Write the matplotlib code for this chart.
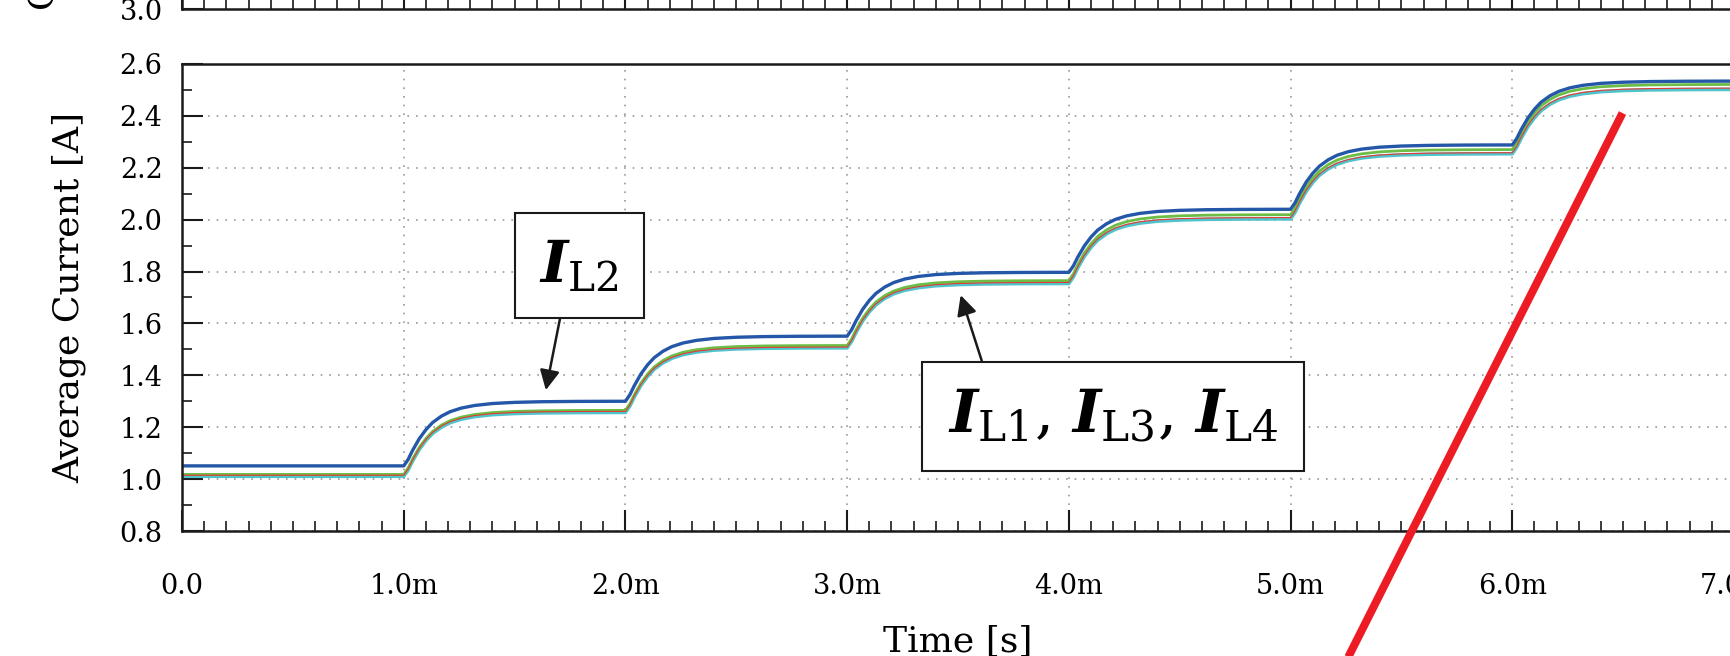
import matplotlib
matplotlib.use("Agg")
import matplotlib.pyplot as plt
from matplotlib.ticker import MultipleLocator, FuncFormatter

# step instants [s] and settled levels [A] between the steps
step_times = [1e-3, 2e-3, 3e-3, 4e-3, 5e-3, 6e-3]
t_end = 7e-3
il2_levels = [1.051, 1.300, 1.551, 1.797, 2.040, 2.288, 2.534]
il1_levels = [1.018, 1.265, 1.515, 1.765, 2.019, 2.270, 2.521]
il3_levels = [1.015, 1.261, 1.509, 1.758, 2.008, 2.258, 2.507]
il4_levels = [1.011, 1.257, 1.506, 1.754, 2.003, 2.254, 2.502]

# shape of one transient (time after step [s], fraction of step)
rise_dt = [0, 0.02e-3, 0.04e-3, 0.07e-3, 0.10e-3, 0.13e-3, 0.17e-3, 0.21e-3,
           0.26e-3, 0.32e-3, 0.40e-3, 0.50e-3, 0.62e-3, 0.78e-3, 0.95e-3]
rise_frac = [0, 0.10, 0.24, 0.42, 0.56, 0.67, 0.77, 0.84,
             0.895, 0.935, 0.965, 0.983, 0.993, 0.998, 1.0]

# overlay stroke (data coords)
red_x = [6.497e-3, 5.075e-3]
red_y = [2.411, 0.0]


def step_trace(levels):
    t = [0.0]
    y = [levels[0]]
    for k, ts in enumerate(step_times):
        lo, hi = levels[k], levels[k + 1]
        for dt, f in zip(rise_dt, rise_frac):
            t.append(ts + dt)
            y.append(lo + (hi - lo) * f)
    t.append(t_end)
    y.append(levels[-1])
    return t, y


def time_fmt(x, pos):
    if abs(x) < 1e-12:
        return "0.0"
    return "%.1fm" % (x * 1e3)


plt.rcParams["font.family"] = ["DejaVu Serif"]
plt.rcParams["mathtext.fontset"] = "custom"
plt.rcParams["mathtext.rm"] = "DejaVu Serif"
plt.rcParams["mathtext.it"] = "DejaVu Serif:italic:bold"

W, H = 1730, 656
fig = plt.figure(figsize=(W / 100, H / 100), dpi=100)
left, right = 182 / W, 1734 / W
ax = fig.add_axes([left, 1 - 531 / H, right - left, (531 - 64) / H])
ax_top = fig.add_axes([left, 1 - 9 / H, right - left, 0.6])

ink = "#1a1a1a"

for a in (ax, ax_top):
    a.set_xlim(0, t_end)
    a.xaxis.set_major_locator(MultipleLocator(1e-3))
    a.xaxis.set_minor_locator(MultipleLocator(1e-4))
    a.tick_params(which="major", direction="in", length=15, width=1.5, color=ink,
                  labelsize=19.5, top=False, right=False)
    a.tick_params(which="minor", direction="in", length=7, width=1.2, color=ink,
                  top=False, right=False)
    for s in a.spines.values():
        s.set_linewidth(1.8)
        s.set_color(ink)

ax.set_ylim(0.8, 2.6)
ax.yaxis.set_major_locator(MultipleLocator(0.2))
ax.yaxis.set_minor_locator(MultipleLocator(0.1))
ax.xaxis.set_major_formatter(FuncFormatter(time_fmt))
ax.yaxis.set_major_formatter(FuncFormatter(lambda v, p: "%.1f" % v))
ax.tick_params(axis="x", which="major", pad=30)
ax.tick_params(axis="y", which="major", pad=14)
ax.grid(which="major", color="#9a9a9a", linestyle=(0, (1, 4.2)), linewidth=1.2)
ax.set_axisbelow(True)

ax_top.set_ylim(3.0, 4.0)
ax_top.set_yticks([3.0])
ax_top.yaxis.set_major_formatter(FuncFormatter(lambda v, p: "%.1f" % v))
ax_top.tick_params(axis="x", labelbottom=False)
ax_top.tick_params(axis="y", pad=14)

traces = [
    (il4_levels, "#4fc4cc", 2.6),
    (il1_levels, "#6cbd45", 2.0),
    (il3_levels, "#e53935", 0.8),
    (il2_levels, "#2457a7", 2.4),
]
for levels, color, lw in traces:
    t, y = step_trace(levels)
    ax.plot(t, y, color=color, lw=lw, solid_joinstyle="round")

ax.plot(red_x, red_y, color="#ed1c24", lw=5.8, solid_capstyle="butt",
        clip_on=False, zorder=10)

box = dict(boxstyle="square,pad=0.42", fc="white", ec=ink, lw=1.5)
ax.annotate(r"$I_{\mathrm{L2}}$", xy=(1.641e-3, 1.343), xytext=(1.792e-3, 1.823),
            ha="center", va="center", fontsize=42, bbox=box,
            arrowprops=dict(arrowstyle="-|>", color=ink, lw=1.8, mutation_scale=30,
                            relpos=(0.32, 0.0), shrinkA=0, shrinkB=0))
ax.annotate(r"$I_{\mathrm{L1}}$, $I_{\mathrm{L3}}$, $I_{\mathrm{L4}}$",
            xy=(3.512e-3, 1.709), xytext=(4.20e-3, 1.243),
            ha="center", va="center", fontsize=43.5, bbox=box,
            arrowprops=dict(arrowstyle="-|>", color=ink, lw=1.8, mutation_scale=30,
                            relpos=(0.128, 1.0), shrinkA=0, shrinkB=0))

ax.set_xlabel("Time [s]", fontsize=26, labelpad=18)
ax.set_ylabel("Average Current [A]", fontsize=26, labelpad=24)
fig.text(43 / W, 1 - 10 / H, "Current [A]", rotation=90, ha="center", va="bottom",
         fontsize=26)

fig.savefig("out.png", dpi=100)
